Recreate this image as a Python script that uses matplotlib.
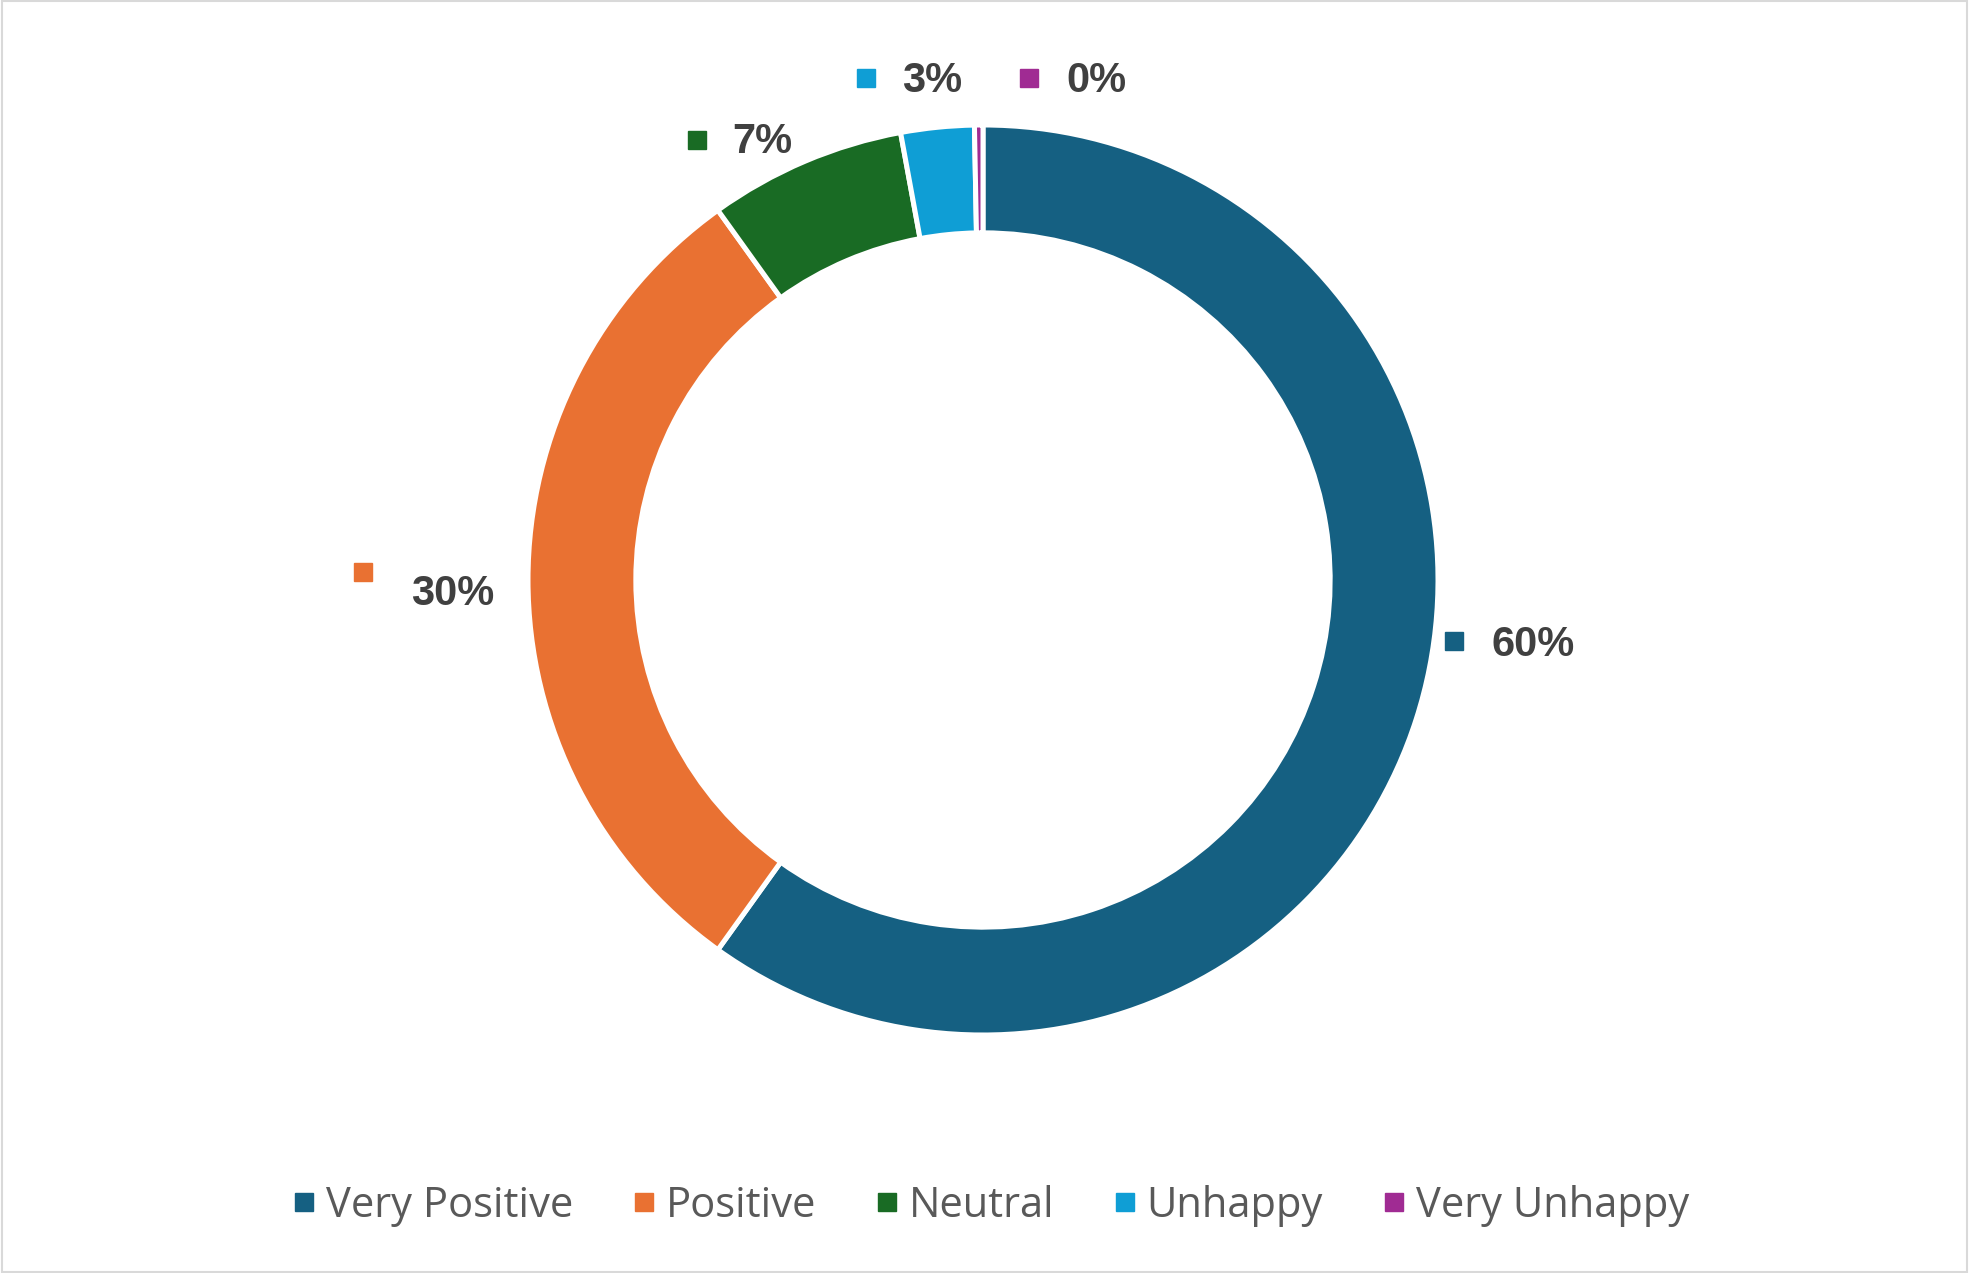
import matplotlib.pyplot as plt
from matplotlib.lines import Line2D
from matplotlib.patches import Rectangle

categories = ["Very Positive", "Positive", "Neutral", "Unhappy", "Very Unhappy"]
shares = [59.9, 30.2, 7.0, 2.6, 0.3]
value_labels = ["60%", "30%", "7%", "3%", "0%"]
colors = ["#156082", "#E97132", "#196B24", "#0F9ED5", "#A02B93"]

# label placement (square marker pos, text pos) in units of outer radius
square_pos = [(1.036, -0.135), (-1.363, 0.017), (-0.629, 0.968), (-0.258, 1.104), (0.102, 1.104)]
text_pos = [(1.21, -0.143), (-1.166, -0.03), (-0.485, 0.962), (-0.111, 1.097), (0.249, 1.097)]

W, H = 1969, 1273
cx, cy, R = 983, 580, 455

fig = plt.figure(figsize=(W / 100, H / 100), dpi=100)
ax = fig.add_axes([0, 0, 1, 1])
ax.axis("off")

ax.pie(shares, colors=colors, startangle=90, counterclock=False, radius=1,
       wedgeprops=dict(width=0.237, edgecolor="white", linewidth=3.6))
ax.set_xlim(-cx / R, (W - cx) / R)
ax.set_ylim(-(H - cy) / R, cy / R)
ax.set_aspect("auto")

for lab, c, sp, tp in zip(value_labels, colors, square_pos, text_pos):
    ax.plot(sp[0], sp[1], marker="s", markersize=12.5, color=c, linestyle="none")
    ax.text(tp[0], tp[1], lab, ha="center", va="center", fontsize=30,
            fontweight="bold", color="#404040", family="Liberation Sans")

handles = [Line2D([], [], marker="s", markersize=12.5, color=c, linestyle="none") for c in colors]
fig.legend(handles, categories, loc="center", bbox_to_anchor=(0.503, 0.053), ncol=5,
           frameon=False, handlelength=0.6, handletextpad=0.22, columnspacing=1.4,
           prop={"family": "Open Sans", "size": 30}, labelcolor="#595959")

fig.patches.append(Rectangle((0.001, 0.001), 0.998, 0.998, transform=fig.transFigure,
                             fill=False, edgecolor="#D9D9D9", linewidth=1.5))

fig.savefig("out.png", dpi=100, facecolor="white")
